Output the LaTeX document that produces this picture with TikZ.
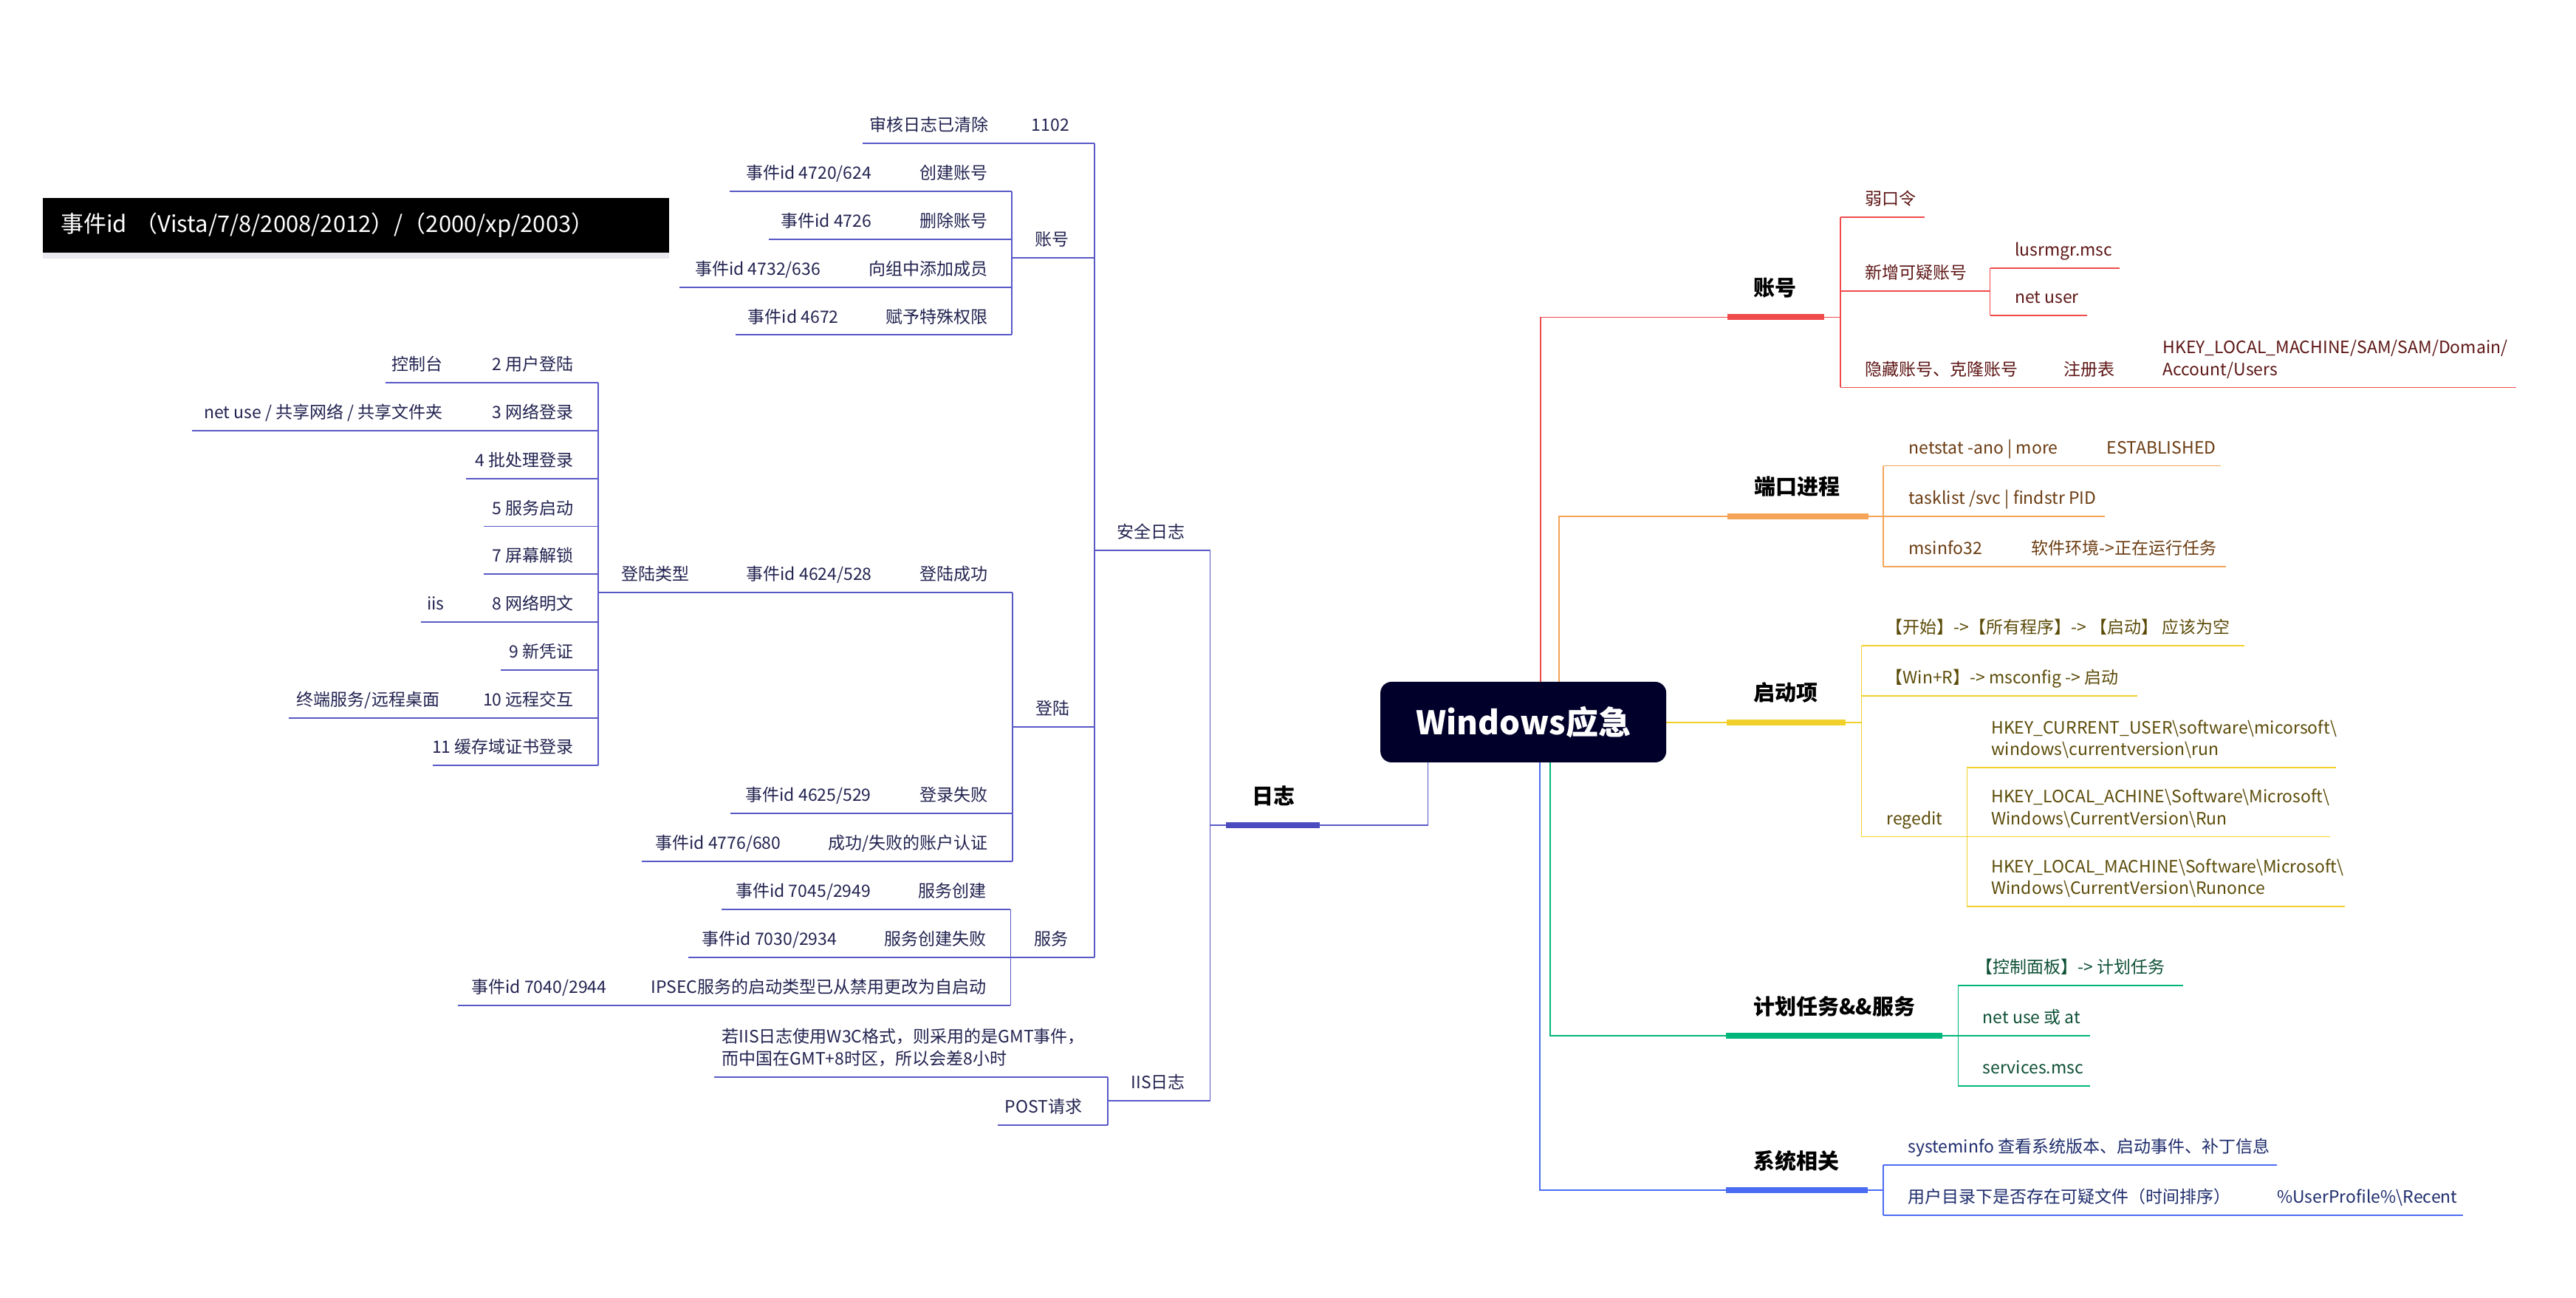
\documentclass[tikz,border=0pt]{standalone}
\usepackage{fontspec}
\setmainfont{Noto Sans CJK SC}
\definecolor{lcol}{HTML}{5858C8}
\definecolor{lbar}{HTML}{4B4BBF}
\definecolor{ltxt}{HTML}{222250}
\definecolor{rcol}{HTML}{F04A4A}
\definecolor{rtxt}{HTML}{5E1616}
\definecolor{ocol}{HTML}{F5A457}
\definecolor{otxt}{HTML}{6B3C12}
\definecolor{ycol}{HTML}{F1D02B}
\definecolor{ytxt}{HTML}{5B4B08}
\definecolor{gcol}{HTML}{00B67B}
\definecolor{gtxt}{HTML}{0D4F35}
\definecolor{bcol}{HTML}{4B6CF2}
\definecolor{btxt}{HTML}{1E2C6C}
\definecolor{titlec}{HTML}{00002A}
\definecolor{shadowc}{HTML}{E9E9EF}
\newcommand\bodyf{\fontsize{23pt}{29.6pt}\selectfont}
\newcommand\mainf{\fontsize{29pt}{34pt}\selectfont\bfseries}
\newcommand\twol[2]{\begin{tabular}[b]{@{}l@{}}#1\\#2\end{tabular}}
\newcommand\bs{\textbackslash}
\begin{document}
\begin{tikzpicture}[x=2.225pt,y=-2.225pt,
  ln/.style={line width=1.8pt},
  barl/.style={line width=8pt},
  lt/.style={anchor=base east,inner sep=0pt,font=\bodyf,text=ltxt},
  rt/.style={anchor=base west,inner sep=0pt,font=\bodyf},
  mainlbl/.style={anchor=base west,inner sep=0pt,font=\mainf,text=black}]
\useasboundingbox (0,0) rectangle (1567.6,789.2);

% ---------------- header box
\fill[shadowc] (26,153.8) rectangle (407,157.5);
\node[fill=black,anchor=north west,inner xsep=24.3pt,inner ysep=0pt,
  minimum height=74.5pt,text width=799pt,align=left,text=white,
  font=\fontsize{31pt}{34pt}\selectfont] (hdr) at (26,120.3)
  {事件id （Vista/7/8/2008/2012）/（2000/xp/2003）};

% ---------------- RIGHT: 账号 (red)
\draw[ln,rcol] (937.5,420) -- (937.5,193) -- (1051,193);
\draw[barl,rcol] (1051,193) -- (1110,193);
\draw[ln,rcol] (1110,193) -- (1120,193);
\draw[ln,rcol] (1120,132) -- (1120,235.7);
\draw[ln,rcol] (1120,132) -- (1171,132);
\draw[ln,rcol] (1120,177) -- (1211,177);
\draw[ln,rcol] (1211,163) -- (1211,192);
\draw[ln,rcol] (1211,163) -- (1290,163);
\draw[ln,rcol] (1211,192) -- (1270,192);
\draw[ln,rcol] (1120,235.7) -- (1531,235.7);
\node[mainlbl] (zh) at (1067,180.1) {账号};
\node[rt,text=rtxt] (r1) at (1135,124.7) {弱口令};
\node[rt,text=rtxt] (r2) at (1135,169.7) {新增可疑账号};
\node[rt,text=rtxt] (r21) at (1226,155.7) {lusrmgr.msc};
\node[rt,text=rtxt] (r22) at (1226,184.7) {net user};
\node[rt,text=rtxt] (r3) at (1135,228.4) {隐藏账号、克隆账号};
\node[rt,text=rtxt] (r31) at (1256,228.4) {注册表};
\node[rt,text=rtxt] (r32) at (1316,228.4) {\twol{HKEY\_LOCAL\_MACHINE/SAM/SAM/Domain/}{Account/Users}};

% ---------------- RIGHT: 端口进程 (orange)
\draw[ln,ocol] (948.7,420) -- (948.7,314) -- (1051,314);
\draw[barl,ocol] (1051,314) -- (1137,314);
\draw[ln,ocol] (1137,314) -- (1146,314);
\draw[ln,ocol] (1146,283.4) -- (1146,344.6);
\draw[ln,ocol] (1146,283.4) -- (1351.6,283.4);
\draw[ln,ocol] (1146,314) -- (1281,314);
\draw[ln,ocol] (1146,344.6) -- (1354.6,344.6);
\node[mainlbl] (dk) at (1067.5,301.1) {端口进程};
\node[rt,text=otxt] (o1) at (1161.5,276.1) {netstat -ano | more};
\node[rt,text=otxt] (o11) at (1282,276.1) {ESTABLISHED};
\node[rt,text=otxt] (o2) at (1161.5,306.7) {tasklist /svc | findstr PID};
\node[rt,text=otxt] (o3) at (1161.5,337.3) {msinfo32};
\node[rt,text=otxt] (o31) at (1236,337.3) {软件环境->正在运行任务};

% ---------------- RIGHT: 启动项 (yellow)
\draw[ln,ycol] (1010,439.4) -- (1050.7,439.4);
\draw[barl,ycol] (1050.7,439.4) -- (1123,439.4);
\draw[ln,ycol] (1123,439.4) -- (1132.8,439.4);
\draw[ln,ycol] (1132.8,392.8) -- (1132.8,509);
\draw[ln,ycol] (1132.8,392.8) -- (1365.7,392.8);
\draw[ln,ycol] (1132.8,423.2) -- (1300.6,423.2);
\draw[ln,ycol] (1132.8,509) -- (1418,509);
\draw[ln,ycol] (1197,467) -- (1197,551.5);
\draw[ln,ycol] (1197,467) -- (1421.7,467);
\draw[ln,ycol] (1197,551.5) -- (1427,551.5);
\node[mainlbl] (qd) at (1067,426.5) {启动项};
\node[rt,text=ytxt] (y1) at (1147.5,385.5) {【开始】->【所有程序】-> 【启动】 应该为空};
\node[rt,text=ytxt] (y2) at (1147.5,415.9) {【Win+R】-> msconfig -> 启动};
\node[rt,text=ytxt] (y3) at (1148,501.7) {regedit};
\node[rt,text=ytxt] (y31) at (1211.7,459.7) {\twol{HKEY\_CURRENT\_USER\bs software\bs micorsoft\bs}{windows\bs currentversion\bs run}};
\node[rt,text=ytxt] (y32) at (1211.7,501.7) {\twol{HKEY\_LOCAL\_ACHINE\bs Software\bs Microsoft\bs}{Windows\bs CurrentVersion\bs Run}};
\node[rt,text=ytxt] (y33) at (1211.7,544.2) {\twol{HKEY\_LOCAL\_MACHINE\bs Software\bs Microsoft\bs}{Windows\bs CurrentVersion\bs Runonce}};

% ---------------- RIGHT: 计划任务&&服务 (green)
\draw[ln,gcol] (943.5,458) -- (943.5,630) -- (1050.4,630);
\draw[barl,gcol] (1050.4,630) -- (1182,630);
\draw[ln,gcol] (1182,630) -- (1191.6,630);
\draw[ln,gcol] (1191.6,599.6) -- (1191.6,660.7);
\draw[ln,gcol] (1191.6,599.6) -- (1328.5,599.6);
\draw[ln,gcol] (1191.6,630) -- (1272,630);
\draw[ln,gcol] (1191.6,660.7) -- (1272,660.7);
\node[mainlbl] (jh) at (1067,617.1) {计划任务\&\&服务};
\node[rt,text=gtxt] (g1) at (1202.5,592.3) {【控制面板】-> 计划任务};
\node[rt,text=gtxt] (g2) at (1206.5,622.7) {net use 或 at};
\node[rt,text=gtxt] (g3) at (1206.5,653.4) {services.msc};

% ---------------- RIGHT: 系统相关 (blue)
\draw[ln,bcol] (937,458) -- (937,724) -- (1050.4,724);
\draw[barl,bcol] (1050.4,724) -- (1136.6,724);
\draw[ln,bcol] (1136.6,724) -- (1146,724);
\draw[ln,bcol] (1146,708.6) -- (1146,739.3);
\draw[ln,bcol] (1146,708.6) -- (1385.6,708.6);
\draw[ln,bcol] (1146,739.3) -- (1499,739.3);
\node[mainlbl] (xt) at (1067,711.1) {系统相关};
\node[rt,text=btxt] (b1) at (1161,701.3) {systeminfo 查看系统版本、启动事件、补丁信息};
\node[rt,text=btxt] (b2) at (1161,732) {用户目录下是否存在可疑文件（时间排序）};
\node[rt,text=btxt] (b21) at (1385.6,732) {\%UserProfile\%\bs Recent};

% ---------------- LEFT: 日志
\draw[ln,lcol] (869,458) -- (869,502) -- (803,502);
\draw[barl,lbar] (746,502) -- (803,502);
\draw[ln,lcol] (736.4,502) -- (746,502);
\draw[ln,lcol] (736.4,334.8) -- (736.4,669.7);
\node[mainlbl] (rz) at (762,489.1) {日志};

% 安全日志
\draw[ln,lcol] (666,334.8) -- (736.4,334.8);
\draw[ln,lcol] (666,87.2) -- (666,582.3);
\node[lt] (aq) at (721.4,327.5) {安全日志};
% 1102
\draw[ln,lcol] (525,87.2) -- (666,87.2);
\node[lt] (s1) at (650.8,79.9) {1102};
\node[lt] (s11) at (601.5,79.9) {审核日志已清除};
% 账号
\draw[ln,lcol] (615.7,156.7) -- (666,156.7);
\draw[ln,lcol] (615.7,116.4) -- (615.7,203.7);
\node[lt] (s2) at (650.8,149.4) {账号};
\draw[ln,lcol] (444,116.4) -- (615.7,116.4);
\node[lt] (a1) at (601,109.1) {创建账号};
\node[lt] (a1e) at (530.5,109.1) {事件id 4720/624};
\draw[ln,lcol] (468,145.5) -- (615.7,145.5);
\node[lt] (a2) at (601,138.2) {删除账号};
\node[lt] (a2e) at (530.5,138.2) {事件id 4726};
\draw[ln,lcol] (413.3,174.7) -- (615.7,174.7);
\node[lt] (a3) at (601,167.4) {向组中添加成员};
\node[lt] (a3e) at (499.5,167.4) {事件id 4732/636};
\draw[ln,lcol] (447.6,203.7) -- (615.7,203.7);
\node[lt] (a4) at (601,196.4) {赋予特殊权限};
\node[lt] (a4e) at (510.5,196.4) {事件id 4672};
% 登陆
\draw[ln,lcol] (616.3,442.2) -- (666,442.2);
\draw[ln,lcol] (616.3,360.3) -- (616.3,524);
\node[lt] (s3) at (651,434.9) {登陆};
\draw[ln,lcol] (364.2,360.3) -- (616.3,360.3);
\node[lt] (d1) at (601.3,353) {登陆成功};
\node[lt] (d1e) at (530.7,353) {事件id 4624/528};
\node[lt] (d1t) at (419.7,353) {登陆类型};
\draw[ln,lcol] (364.2,232.8) -- (364.2,465.6);
\draw[ln,lcol] (234.4,232.8) -- (364.2,232.8);
\node[lt] (t2) at (349.2,225.5) {2 用户登陆};
\node[lt] (t2a) at (269.7,225.5) {控制台};
\draw[ln,lcol] (117,262.1) -- (364.2,262.1);
\node[lt] (t3) at (349.2,254.8) {3 网络登录};
\node[lt] (t3a) at (269.7,254.8) {net use / 共享网络 / 共享文件夹};
\draw[ln,lcol] (283.4,291.1) -- (364.2,291.1);
\node[lt] (t4) at (349.2,283.8) {4 批处理登录};
\draw[ln,lcol] (294.5,320.2) -- (364.2,320.2);
\node[lt] (t5) at (349.2,312.9) {5 服务启动};
\draw[ln,lcol] (294.5,349.3) -- (364.2,349.3);
\node[lt] (t7) at (349.2,342) {7 屏幕解锁};
\draw[ln,lcol] (256.3,378.5) -- (364.2,378.5);
\node[lt] (t8) at (349.2,371.2) {8 网络明文};
\node[lt] (t8a) at (270.5,371.2) {iis};
\draw[ln,lcol] (304.8,407.6) -- (364.2,407.6);
\node[lt] (t9) at (349.2,400.3) {9 新凭证};
\draw[ln,lcol] (175.8,436.7) -- (364.2,436.7);
\node[lt] (t10) at (349.2,429.4) {10 远程交互};
\node[lt] (t10a) at (267.5,429.4) {终端服务/远程桌面};
\draw[ln,lcol] (263.3,465.6) -- (364.2,465.6);
\node[lt] (t11) at (349.2,458.3) {11 缓存域证书登录};
\draw[ln,lcol] (444.4,494.9) -- (616.3,494.9);
\node[lt] (d2) at (601.3,487.6) {登录失败};
\node[lt] (d2e) at (530.3,487.6) {事件id 4625/529};
\draw[ln,lcol] (390.6,524) -- (616.3,524);
\node[lt] (d3) at (601.3,516.7) {成功/失败的账户认证};
\node[lt] (d3e) at (475.3,516.7) {事件id 4776/680};
% 服务
\draw[ln,lcol] (615,582.3) -- (666,582.3);
\draw[ln,lcol] (615,553.3) -- (615,611.5);
\node[lt] (s4) at (650.3,575) {服务};
\draw[ln,lcol] (439.3,553.3) -- (615,553.3);
\node[lt] (f1) at (600.2,546) {服务创建};
\node[lt] (f1e) at (530,546) {事件id 7045/2949};
\draw[ln,lcol] (418.9,582.3) -- (615,582.3);
\node[lt] (f2) at (600.2,575) {服务创建失败};
\node[lt] (f2e) at (509.4,575) {事件id 7030/2934};
\draw[ln,lcol] (278.5,611.5) -- (615,611.5);
\node[lt] (f3) at (600.2,604.2) {IPSEC服务的启动类型已从禁用更改为自启动};
\node[lt] (f3e) at (369.2,604.2) {事件id 7040/2944};
% IIS日志
\draw[ln,lcol] (674.3,669.7) -- (736.4,669.7);
\draw[ln,lcol] (674.3,655.1) -- (674.3,684.3);
\node[lt] (iis) at (721.4,662.4) {IIS日志};
\draw[ln,lcol] (434.6,655.1) -- (674.3,655.1);
\node[lt,anchor=base west] (i1) at (439.3,647.8) {\twol{若IIS日志使用W3C格式，则采用的是GMT事件，}{而中国在GMT+8时区，所以会差8小时}};
\draw[ln,lcol] (607.2,684.3) -- (674.3,684.3);
\node[lt] (i2) at (658.6,677) {POST请求};

% ---------------- central topic
\node[fill=titlec,rounded corners=15pt,minimum width=387pt,minimum height=109pt,
  inner sep=0pt,text=white,font=\fontsize{44pt}{48pt}\selectfont\bfseries] (root) at (927,439.3) {Windows应急};
\end{tikzpicture}
\end{document}
